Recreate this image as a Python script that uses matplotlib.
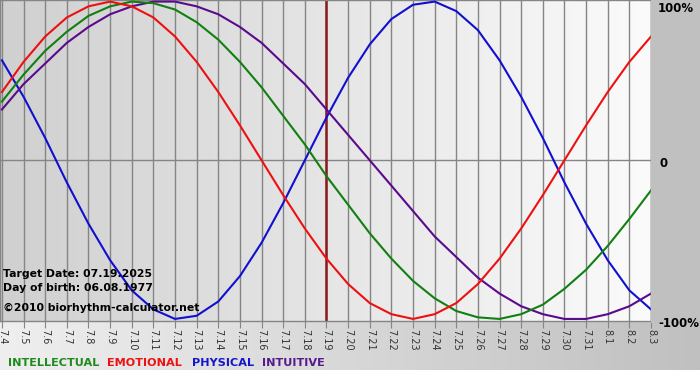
import numpy as np
import matplotlib
matplotlib.use("Agg")
import matplotlib.pyplot as plt
from matplotlib.colors import LinearSegmentedColormap

# ---- data ----
dates = ["7.4", "7.5", "7.6", "7.7", "7.8", "7.9", "7.10", "7.11", "7.12", "7.13",
         "7.14", "7.15", "7.16", "7.17", "7.18", "7.19", "7.20", "7.21", "7.22", "7.23",
         "7.24", "7.25", "7.26", "7.27", "7.28", "7.29", "7.30", "7.31", "8.1", "8.2", "8.3"]
physical = [0.63, 0.40, 0.14, -0.14, -0.40, -0.63, -0.82, -0.94, -1.00, -0.98,
            -0.89, -0.73, -0.52, -0.27, 0.00, 0.27, 0.52, 0.73, 0.89, 0.98,
            1.00, 0.94, 0.82, 0.63, 0.40, 0.14, -0.14, -0.40, -0.63, -0.82, -0.94]
emotional = [0.43, 0.62, 0.78, 0.90, 0.97, 1.00, 0.97, 0.90, 0.78, 0.62,
             0.43, 0.22, 0.00, -0.22, -0.43, -0.62, -0.78, -0.90, -0.97, -1.00,
             -0.97, -0.90, -0.78, -0.62, -0.43, -0.22, 0.00, 0.22, 0.43, 0.62, 0.78]
intellectual = [0.37, 0.54, 0.69, 0.81, 0.91, 0.97, 1.00, 0.99, 0.95, 0.87,
                0.76, 0.62, 0.46, 0.28, 0.10, -0.10, -0.28, -0.46, -0.62, -0.76,
                -0.87, -0.95, -0.99, -1.00, -0.97, -0.91, -0.81, -0.69, -0.54, -0.37, -0.19]
intuitive = [0.32, 0.48, 0.61, 0.74, 0.84, 0.92, 0.97, 1.00, 1.00, 0.97,
             0.92, 0.84, 0.74, 0.61, 0.48, 0.32, 0.16, 0.00, -0.16, -0.32,
             -0.48, -0.61, -0.74, -0.84, -0.92, -0.97, -1.00, -1.00, -0.97, -0.92, -0.84]
target_date = "7.19"
y_labels = ["100%", "0", "-100%"]
legend_names = ["INTELLECTUAL", "EMOTIONAL", "PHYSICAL", "INTUITIVE"]
info_lines = ["Target Date: 07.19.2025", "Day of birth: 06.08.1977",
              "\u00a92010 biorhythm-calculator.net"]

W, H = 700, 380
fig = plt.figure(figsize=(W / 100, H / 100), dpi=100)
fig.patch.set_facecolor("white")

def px(x, y):
    return x / W, 1 - y / H

# background behind everything (light left -> grey right)
bg = fig.add_axes([0, 10 / H, 1, 360 / H])
bg.set_axis_off()
bg_cmap = LinearSegmentedColormap.from_list("bg", ["#efefef", "#c0c0c0"])
bg.imshow(np.linspace(0, 1, 256)[None, :], cmap=bg_cmap, aspect="auto",
          extent=[0, 1, 0, 1])
bg.set_xlim(0, 1); bg.set_ylim(0, 1)

# right grey margin
fig.patches.append(plt.Rectangle(px(651, 322), 49 / W, 322 / H,
                                 transform=fig.transFigure, color="#c0c0c0", zorder=0))

ax = fig.add_axes([0, (H - 321) / H, 651 / W, 321 / H])
pa_cmap = LinearSegmentedColormap.from_list("pa", ["#d0d0d0", "#fbfbfb"])
ax.imshow(np.linspace(0, 1, 256)[None, :], cmap=pa_cmap, aspect="auto",
          extent=[0, 1, 0, 1], transform=ax.transAxes, zorder=0)

x = np.arange(len(dates))
for xi in x:
    ax.axvline(xi, color="#858585", lw=1.0, zorder=1)
ax.axhline(0, color="#858585", lw=1.0, zorder=1)
ax.axvline(dates.index(target_date), color="#8b1a1a", lw=1.8, zorder=2)

ax.plot(x, physical, color="#1010d0", lw=1.5, zorder=3)
ax.plot(x, intuitive, color="#5a0a8c", lw=1.5, zorder=3)
ax.plot(x, intellectual, color="#108010", lw=1.5, zorder=3)
ax.plot(x, emotional, color="#ee1010", lw=1.5, zorder=3)

ax.set_xlim(-0.09, 30.0)
ax.set_ylim(-1.013, 1.010)
ax.set_xticks(x)
ax.set_xticklabels(dates, rotation=-90, fontsize=7, color="#333333",
                   va="top", ha="center")
ax.set_yticks([])
ax.tick_params(axis="x", length=5, color="#858585", pad=1)
for s in ax.spines.values():
    s.set_color("#858585")
    s.set_linewidth(1.0)

# right-hand labels
for lab, (xx, yy) in zip(y_labels, [(658, 12), (659, 167), (658, 327)]):
    fig.text(*px(xx, yy), lab, fontsize=8.5, fontweight="bold", color="black",
             ha="left", va="baseline")

# info text inside plot
for line, yy in zip(info_lines, [277, 291, 311]):
    fig.text(*px(3, yy), line, fontsize=7.8, fontweight="bold", color="black",
             ha="left", va="baseline", zorder=5)

# legend words
legend_colors = ["#1e8a1e", "#ee1111", "#1414cc", "#561a8c"]
for name, col, xx in zip(legend_names, legend_colors, [8, 107, 192, 262]):
    fig.text(*px(xx, 366), name, fontsize=8.1, fontweight="bold", color=col,
             ha="left", va="baseline")

fig.savefig("out.png", dpi=100, facecolor=fig.get_facecolor())
